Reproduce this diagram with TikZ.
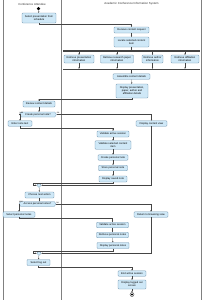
\documentclass[tikz,border=0pt]{standalone}
\usepackage{fontspec}
\setmainfont{Liberation Sans}
\usetikzlibrary{arrows.meta,shapes.geometric,shapes.symbols}
\definecolor{boxfill}{HTML}{CFE8F7}
\definecolor{boxdraw}{HTML}{6F93AD}
\definecolor{linec}{HTML}{454545}
\definecolor{lanec}{HTML}{808080}
\begin{document}
\begin{tikzpicture}[x=2pt,y=-2pt,
  act/.style={draw=boxdraw, fill=boxfill, rounded corners=1.8pt, line width=0.45pt,
    font=\fontsize{5.2}{6}\selectfont, align=center, inner sep=0.8pt},
  flow/.style={draw=linec, line width=0.45pt, -{Stealth[length=3pt,width=2.6pt]}},
  bar/.style={fill=linec, draw=none, minimum width=274pt, minimum height=2.4pt, inner sep=0pt},
  dec/.style={signal, signal to=west and east, signal pointer angle=110, draw=boxdraw,
    fill=boxfill, line width=0.45pt, font=\fontsize{5.2}{6}\selectfont,
    minimum height=10pt, minimum width=74pt, inner xsep=1pt, inner ysep=0.5pt},
  mrg/.style={diamond, draw=boxdraw, fill=boxfill, minimum size=9pt, inner sep=0pt, line width=0.45pt},
  lbl/.style={font=\fontsize{4.4}{5}\selectfont, inner sep=0.5pt},
  lane/.style={draw=lanec, line width=0.6pt},
  hdr/.style={font=\fontsize{5.8}{6.5}\selectfont, text=black!80, inner sep=0pt}]
\useasboundingbox (0,0) rectangle (205,300);
% swimlanes
\draw[lane] (3,0) -- (3,300);
\draw[lane] (61.5,0) -- (61.5,300);
\draw[lane] (201.5,0) -- (201.5,300);
\node[hdr] (h1) at (32,4) {Conference Attendee};
\node[hdr] (h2) at (131.5,4) {Academic Conference Information System};
% nodes
\node[circle, fill=black, minimum size=7pt, inner sep=0pt] (start) at (38.5,8.5) {};
\node[act, minimum width=68pt, minimum height=20pt] (sel) at (39,18) {Select presentation from\\schedule};
\node[act, minimum width=70pt, minimum height=12pt] (recv) at (131.5,30) {Receive content request};
\node[act, minimum width=70pt, minimum height=20pt] (loc) at (131.5,42) {Locate selected content\\item};
\node[bar] (fork) at (131.5,51) {};
\node[act, minimum width=60pt, minimum height=16pt] (r1) at (79,59) {Retrieve presentation\\information};
\node[act, minimum width=66pt, minimum height=16pt] (r2) at (117,59) {Retrieve research paper\\information};
\node[act, minimum width=42pt, minimum height=16pt] (r3) at (152.5,59) {Retrieve author\\information};
\node[act, minimum width=56pt, minimum height=16pt] (r4) at (185,59) {Retrieve affiliation\\information};
\node[bar] (join) at (131.5,69.5) {};
\node[act, minimum width=74pt, minimum height=11pt] (asm) at (131.5,76.5) {Assemble content details};
\node[act, minimum width=64pt, minimum height=28pt] (disp) at (132,91) {Display presentation,\\paper, author and\\affiliation details};
\node[act, minimum width=64pt, minimum height=12pt] (rev) at (39,104) {Review content details};
\node[dec] (dec1) at (38,114.5) {Create personal note?};
\node[act, minimum width=48pt, minimum height=11pt] (enter) at (20,123.5) {Enter note text};
\node[act, minimum width=62pt, minimum height=11pt] (dcv) at (151.5,123.5) {Display content view};
\node[act, minimum width=64pt, minimum height=12pt] (vas) at (113,134) {Validate active session};
\node[act, minimum width=72pt, minimum height=17pt] (vsci) at (113,145) {Validate selected content\\item};
\node[act, minimum width=60pt, minimum height=11pt] (cpn) at (113,157.5) {Create personal note};
\node[act, minimum width=58pt, minimum height=11pt] (stn) at (113,168) {Store personal note};
\node[act, minimum width=56pt, minimum height=12pt] (dsn) at (113,179) {Display saved note};
\node[mrg] (m1) at (39,185.3) {};
\node[act, minimum width=58pt, minimum height=12pt] (cna) at (39.5,195) {Choose next action};
\node[dec] (dec2) at (37.5,204) {Access personal notes?};
\node[act, minimum width=64pt, minimum height=11pt] (selpn) at (19,214.5) {Select personal notes};
\node[act, minimum width=68pt, minimum height=11pt] (rbv) at (151,214.5) {Return to browsing view};
\node[act, minimum width=64pt, minimum height=11pt] (vas2) at (112.5,225) {Validate active session};
\node[act, minimum width=64pt, minimum height=11pt] (rpn) at (112.5,235) {Retrieve personal notes};
\node[act, minimum width=64pt, minimum height=12pt] (dpn) at (113,245.5) {Display personal notes};
\node[mrg] (m2) at (39,253.3) {};
\node[act, minimum width=46pt, minimum height=12pt] (slo) at (38.5,262.5) {Select log out};
\node[act, minimum width=56pt, minimum height=11pt] (eas) at (132,273.5) {End active session};
\node[act, minimum width=56pt, minimum height=18pt] (dlo) at (132,284.5) {Display logged out\\screen};
\node[circle, draw=black, line width=0.5pt, minimum size=8pt, inner sep=0pt] (end) at (132,294.5) {};
\node[circle, fill=black, minimum size=4.6pt, inner sep=0pt] (endc) at (end) {};
% branch labels
\node[lbl, anchor=south west] (y1) at ([yshift=0.5pt]dec1.west) {yes};
\node[lbl, anchor=south west] (n1) at ([yshift=0.5pt]dec1.east) {no};
\node[lbl, anchor=south west] (y2) at ([yshift=0.5pt]dec2.west) {yes};
\node[lbl, anchor=south west] (n2) at ([yshift=0.5pt]dec2.east) {no};
% helper coordinates
\coordinate (c1) at (0,24.5);
\coordinate (c2) at (0,99.5);
\coordinate (c3) at (0,127.8);
\coordinate (k1) at (33,183);
\coordinate (c4) at (0,218.5);
\coordinate (k2) at (33,251);
\coordinate (c5) at (0,267.5);
% connectors
\draw[flow] (start) -- (sel);
\draw[flow] (sel.south) -- (sel.south |- c1) -| (recv.north);
\draw[flow] (recv) -- (loc);
\draw[flow] (loc) -- (fork);
\foreach \r in {r1,r2,r3,r4}{
  \draw[flow] (\r.north |- fork.south) -- (\r.north);
  \draw[flow] (\r.south) -- (\r.south |- join.north);
}
\draw[flow] (join) -- (asm);
\draw[flow] (asm) -- (disp);
\draw[flow] (disp.south) -- (disp.south |- c2) -| (rev.north);
\draw[flow] (rev.south) -- (rev.south |- dec1.north);
\draw[flow] (dec1.west) -| (enter.north);
\draw[flow] (dec1.east) -| (dcv.north);
\draw[flow] (enter.south) -- (enter.south |- c3) -| (vas.north);
\draw[flow] (vas) -- (vsci);
\draw[flow] (vsci) -- (cpn);
\draw[flow] (cpn) -- (stn);
\draw[flow] (stn) -- (dsn);
\draw[flow] (dsn.south) |- (k1) |- (m1.west);
\draw[flow] (dcv.south) |- (m1.east);
\draw[flow] (m1) -- (cna);
\draw[flow] (cna.south) -- (cna.south |- dec2.north);
\draw[flow] (dec2.west) -| (selpn.north);
\draw[flow] (dec2.east) -| (rbv.north);
\draw[flow] (selpn.south) -- (selpn.south |- c4) -| (vas2.north);
\draw[flow] (vas2) -- (rpn);
\draw[flow] (rpn) -- (dpn);
\draw[flow] (dpn.south) |- (k2) |- (m2.west);
\draw[flow] (rbv.south) |- (m2.east);
\draw[flow] (m2) -- (slo);
\draw[flow] (slo.south) -- (slo.south |- c5) -| (eas.north);
\draw[flow] (eas) -- (dlo);
\draw[flow] (dlo) -- (end);
\end{tikzpicture}
\end{document}
